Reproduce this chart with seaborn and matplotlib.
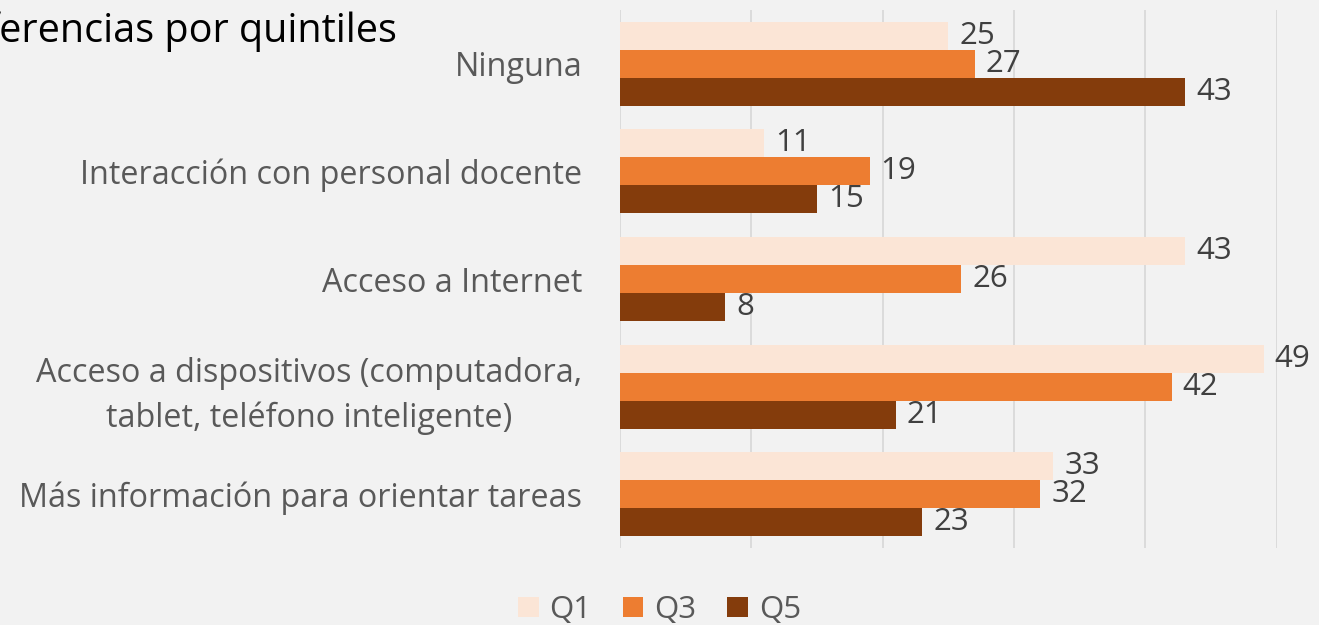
import pandas as pd
import matplotlib.pyplot as plt
import seaborn as sns

categorias = ['Ninguna',
              'Interacción con personal docente',
              'Acceso a Internet',
              'Acceso a dispositivos (computadora,\ntablet, teléfono inteligente)',
              'Más información para orientar tareas']
q1 = [25, 11, 43, 49, 33]
q3 = [27, 19, 26, 42, 32]
q5 = [43, 15, 8, 21, 23]
quintiles = ['Q1', 'Q3', 'Q5']
colores = ['#FBE5D6', '#ED7D31', '#843C0C']

df = pd.DataFrame({'Categoria': categorias * 3,
                   'Quintil': [q for q in quintiles for _ in categorias],
                   'Valor': q1 + q3 + q5})

sns.set_theme(style="whitegrid")
plt.rcParams['font.family'] = ['Open Sans', 'DejaVu Sans']

fig = plt.figure(figsize=(13.19, 6.25), dpi=100, facecolor='#F2F2F2')
ax = fig.add_axes([0.470, 0.123, 0.498, 0.861])
ax.set_facecolor('#F2F2F2')

sns.barplot(data=df, y='Categoria', x='Valor', hue='Quintil', orient='h',
            palette=colores, width=0.78, saturation=1, linewidth=0,
            ax=ax, legend=True)

for c in ax.containers:
    ax.bar_label(c, padding=8, fontsize=22.5, color='#404040', clip_on=False)

ax.set_xlim(0, 50)
ax.set_ylim(4.5, -0.5)
ax.set_xticks(range(0, 51, 10))
ax.set_xticklabels([])
ax.tick_params(axis='x', length=0)
ax.tick_params(axis='y', length=0, pad=27, labelsize=23.3, labelcolor='#595959')
for lbl in ax.get_yticklabels():
    lbl.set_multialignment('center')
    lbl.set_linespacing(1.45)
ax.grid(axis='x', color='#D9D9D9', linewidth=1.3)
ax.grid(axis='y', visible=False)
for s in ax.spines.values():
    s.set_visible(False)
ax.set_xlabel('')
ax.set_ylabel('')

handles, labels = ax.get_legend_handles_labels()
ax.get_legend().remove()
fig.legend(handles, labels, loc='lower center', bbox_to_anchor=(0.5, -0.045),
           ncol=3, frameon=False, fontsize=22.5, labelcolor='#595959',
           handlelength=0.65, handleheight=0.65, handletextpad=0.35,
           columnspacing=1.0)

fig.text(397 / 1319, 1 - 31 / 625, 'Diferencias por quintiles', ha='right',
         va='center', fontsize=28.5, color='black')

fig.savefig('out.png', dpi=100, facecolor=fig.get_facecolor())
